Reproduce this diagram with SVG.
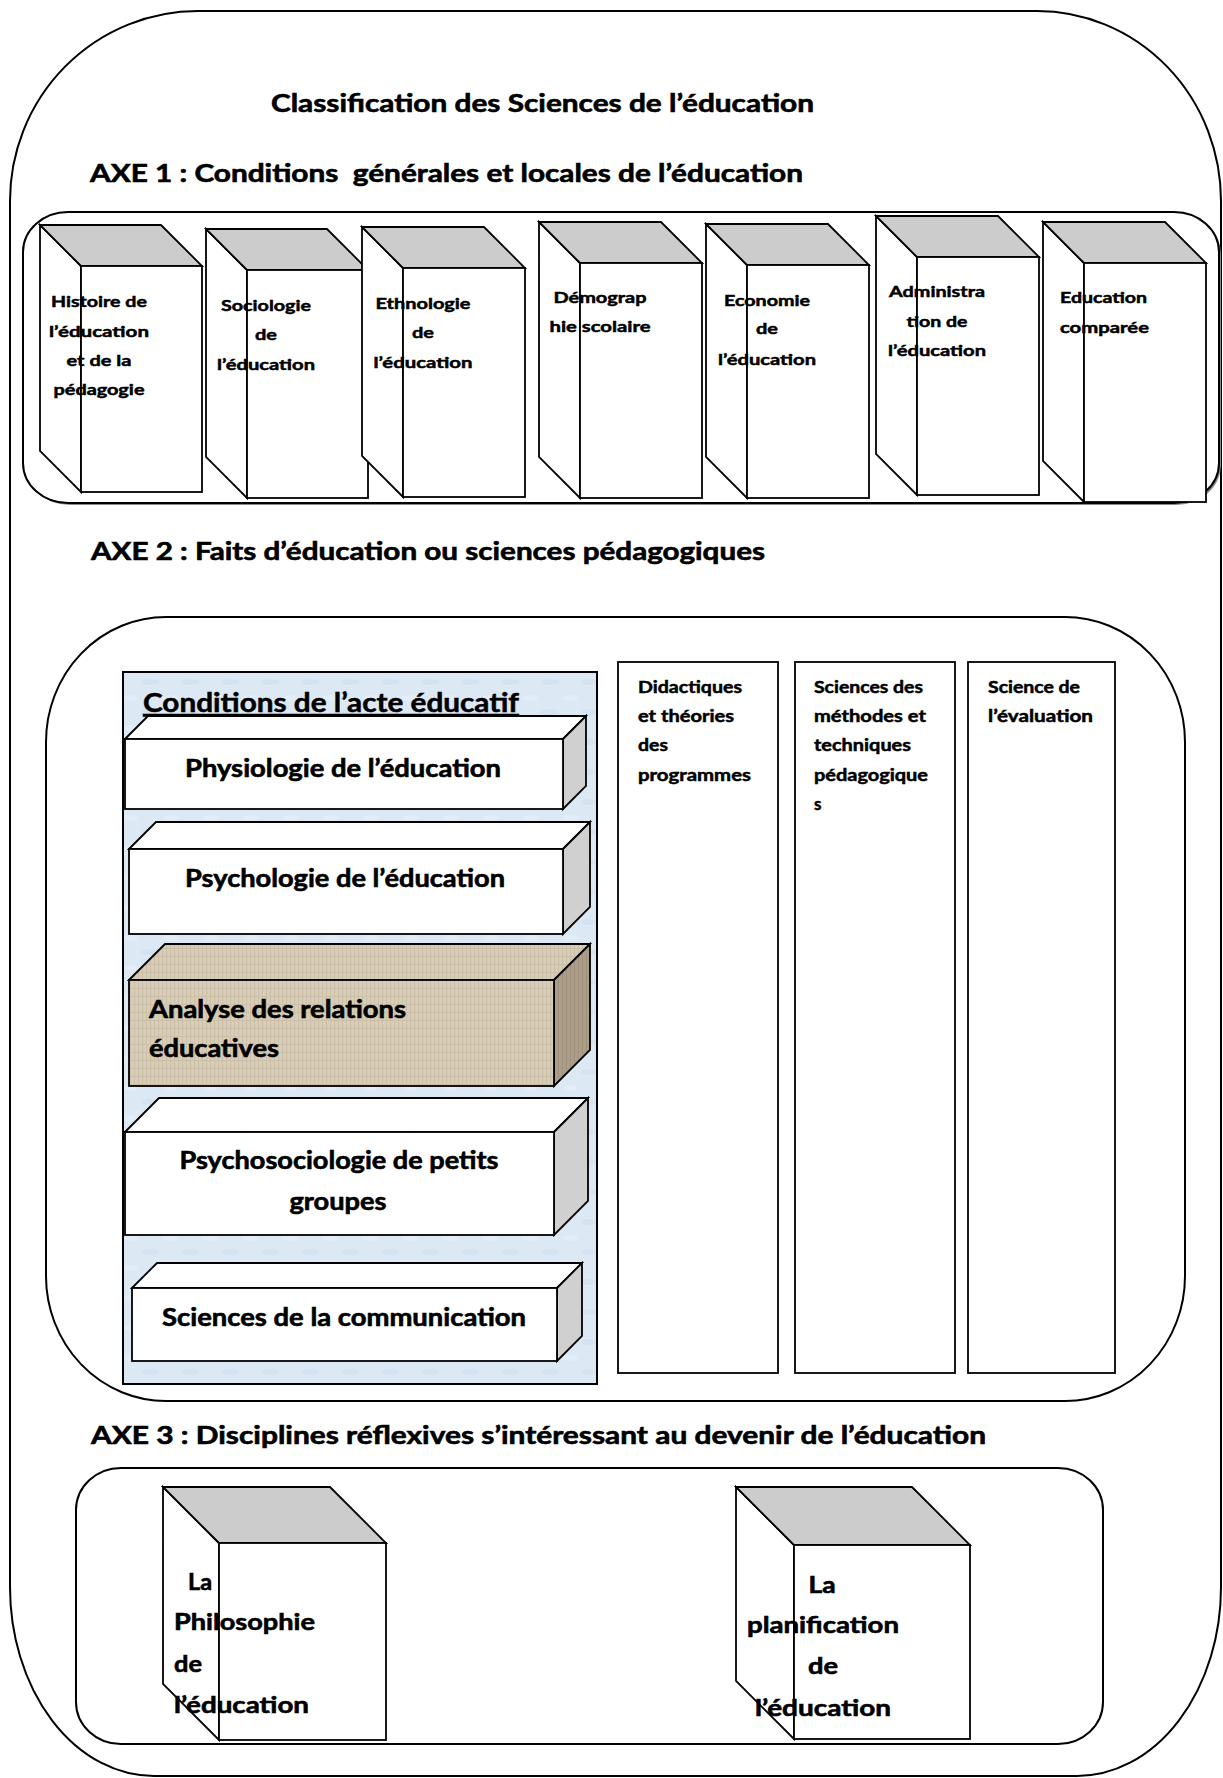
<svg xmlns="http://www.w3.org/2000/svg" width="1223" height="1778" viewBox="0 0 1223 1778">
<defs>
<style>
.t{font-family:Lato,"Liberation Sans",sans-serif;font-weight:700;fill:#000;stroke:#000;stroke-width:0.5}
.h{font-size:24px;stroke-width:0.6}
.s{font-size:16px}
.m{font-size:17px}
.b{font-size:24px;stroke-width:0.6}
.c{font-size:23px;stroke-width:0.6}
.mid{text-anchor:middle}
.box{fill:none;stroke:#000;stroke-width:2}
.boxw{fill:#fff;stroke:#000;stroke-width:2}
.f{stroke:#000;stroke-width:1.8;stroke-linejoin:miter}
.w{fill:#fff}
.g{fill:#cccccc}
.sg{fill:#d0d0d0}
.tan{fill:url(#tanTex)}
.tanside{fill:url(#tanSide)}
</style>
<pattern id="tanTex" width="8" height="8" patternUnits="userSpaceOnUse">
<rect width="8" height="8" fill="#d8cdb8"/>
<path d="M0 4.5H8M2.5 0V8M6.5 0V8" stroke="#cbbfa7" stroke-width="1"/>
</pattern>
<pattern id="tanSide" width="8" height="8" patternUnits="userSpaceOnUse">
<rect width="8" height="8" fill="#ab9d87"/>
<path d="M2.5 0V8M6.5 0V8" stroke="#9f917b" stroke-width="1"/>
</pattern>
<pattern id="blueTex" width="40" height="30" patternUnits="userSpaceOnUse">
<rect width="40" height="30" fill="#dce8f4"/>
<ellipse cx="10" cy="8" rx="8" ry="3" fill="#e3edf7"/>
<ellipse cx="30" cy="22" rx="9" ry="3" fill="#d5e2f0"/>
</pattern>
</defs>
<rect width="1223" height="1778" fill="#fff"/>

<g id="frame">
<path class="box" d="M 198 11 H 1037 A 184 190 0 0 1 1221 201 V 1587 A 144 189 0 0 1 1077 1776 H 154 A 144 189 0 0 1 10 1587 V 201 A 188 190 0 0 1 198 11 Z"/>
</g>

<g id="titles">
<text class="t h" x="271" y="112" textLength="543" lengthAdjust="spacingAndGlyphs">Classification des Sciences de l’éducation</text>
<text class="t h" x="90" y="182" textLength="713" lengthAdjust="spacingAndGlyphs" xml:space="preserve">AXE 1 : Conditions  générales et locales de l’éducation</text>
<text class="t h" x="91" y="560" textLength="674" lengthAdjust="spacingAndGlyphs">AXE 2 : Faits d’éducation ou sciences pédagogiques</text>
<text class="t h" x="91" y="1444" textLength="895" lengthAdjust="spacingAndGlyphs">AXE 3 : Disciplines réflexives s’intéressant au devenir de l’éducation</text>
</g>

<g id="axe1">
<rect x="25" y="214" width="1196" height="291" rx="45" ry="40" fill="#8a8a8a"/>
<rect class="boxw" x="23" y="212" width="1196" height="291" rx="45" ry="40"/>
</g>

<g id="book-histoire">
<polygon class="f w" points="40,225 81,266 81,492 40,451"/>
<polygon class="f g" points="40,225 161,225 202,266 81,266"/>
<rect class="f w" x="81" y="266" width="121" height="226"/>
<text class="t s mid" x="99" y="307" textLength="96" lengthAdjust="spacingAndGlyphs">Histoire de</text>
<text class="t s mid" x="99" y="337" textLength="100" lengthAdjust="spacingAndGlyphs">l’éducation</text>
<text class="t s mid" x="99" y="366" textLength="65" lengthAdjust="spacingAndGlyphs">et de la</text>
<text class="t s mid" x="99" y="395" textLength="91" lengthAdjust="spacingAndGlyphs">pédagogie</text>
</g>

<g id="book-sociologie">
<polygon class="f w" points="206,229 247,270 247,498 206,457"/>
<polygon class="f g" points="206,229 327,229 368,270 247,270"/>
<rect class="f w" x="247" y="270" width="121" height="228"/>
<text class="t s mid" x="266" y="311" textLength="90" lengthAdjust="spacingAndGlyphs">Sociologie</text>
<text class="t s mid" x="266" y="340" textLength="22" lengthAdjust="spacingAndGlyphs">de</text>
<text class="t s mid" x="266" y="370" textLength="98" lengthAdjust="spacingAndGlyphs">l’éducation</text>
</g>

<g id="book-ethnologie">
<polygon class="f w" points="362,227 403,268 403,497 362,456"/>
<polygon class="f g" points="362,227 484,227 525,268 403,268"/>
<rect class="f w" x="403" y="268" width="122" height="229"/>
<text class="t s mid" x="423" y="309" textLength="95" lengthAdjust="spacingAndGlyphs">Ethnologie</text>
<text class="t s mid" x="423" y="338" textLength="22" lengthAdjust="spacingAndGlyphs">de</text>
<text class="t s mid" x="423" y="368" textLength="99" lengthAdjust="spacingAndGlyphs">l’éducation</text>
</g>

<g id="book-demographie">
<polygon class="f w" points="539,222 580,263 580,498 539,457"/>
<polygon class="f g" points="539,222 661,222 702,263 580,263"/>
<rect class="f w" x="580" y="263" width="122" height="235"/>
<text class="t s mid" x="600" y="303" textLength="93" lengthAdjust="spacingAndGlyphs">Démograp</text>
<text class="t s mid" x="600" y="332" textLength="101" lengthAdjust="spacingAndGlyphs">hie scolaire</text>
</g>

<g id="book-economie">
<polygon class="f w" points="706,224 747,265 747,498 706,457"/>
<polygon class="f g" points="706,224 828,224 869,265 747,265"/>
<rect class="f w" x="747" y="265" width="122" height="233"/>
<text class="t s mid" x="767" y="306" textLength="86" lengthAdjust="spacingAndGlyphs">Economie</text>
<text class="t s mid" x="767" y="334" textLength="22" lengthAdjust="spacingAndGlyphs">de</text>
<text class="t s mid" x="767" y="365" textLength="98" lengthAdjust="spacingAndGlyphs">l’éducation</text>
</g>

<g id="book-administration">
<polygon class="f w" points="876,216 917,257 917,495 876,454"/>
<polygon class="f g" points="876,216 998,216 1039,257 917,257"/>
<rect class="f w" x="917" y="257" width="122" height="238"/>
<text class="t s mid" x="937" y="297" textLength="96" lengthAdjust="spacingAndGlyphs">Administra</text>
<text class="t s mid" x="937" y="327" textLength="61" lengthAdjust="spacingAndGlyphs">tion de</text>
<text class="t s mid" x="937" y="356" textLength="98" lengthAdjust="spacingAndGlyphs">l’éducation</text>
</g>

<g id="book-comparee">
<polygon class="f w" points="1043,222 1084,263 1084,502 1043,461"/>
<polygon class="f g" points="1043,222 1165,222 1206,263 1084,263"/>
<rect class="f w" x="1084" y="263" width="122" height="239"/>
<text class="t s" x="1060" y="303" textLength="87" lengthAdjust="spacingAndGlyphs">Education</text>
<text class="t s" x="1060" y="333" textLength="89" lengthAdjust="spacingAndGlyphs">comparée</text>
</g>

<g id="axe2">
<rect class="box" x="46" y="617" width="1139" height="784" rx="120" ry="125"/>
</g>

<g id="conditions-panel">
<rect x="123" y="672" width="474" height="712" fill="url(#blueTex)" stroke="#000" stroke-width="2"/>
<text class="t" x="143" y="712" font-size="26" stroke-width="0.6" textLength="376" lengthAdjust="spacingAndGlyphs" text-decoration="underline">Conditions de l’acte éducatif</text>
</g>

<g id="bar-physiologie">
<polygon class="f w" points="125,739 148,716 586,716 563,739"/>
<polygon class="f sg" points="563,739 586,716 586,786 563,809"/>
<rect class="f w" x="125" y="739" width="438" height="70"/>
<text class="t b mid" x="343" y="777" textLength="316" lengthAdjust="spacingAndGlyphs">Physiologie de l’éducation</text>
</g>

<g id="bar-psychologie">
<polygon class="f w" points="129,849 156,822 590,822 563,849"/>
<polygon class="f sg" points="563,849 590,822 590,907 563,934"/>
<rect class="f w" x="129" y="849" width="434" height="85"/>
<text class="t b mid" x="345" y="887" textLength="320" lengthAdjust="spacingAndGlyphs">Psychologie de l’éducation</text>
</g>

<g id="bar-analyse">
<polygon class="f tan" points="129,980 165,944 590,944 554,980"/>
<polygon class="f tanside" points="554,980 590,944 590,1050 554,1086"/>
<rect class="f tan" x="129" y="980" width="425" height="106"/>
<text class="t b" x="149" y="1018" textLength="257" lengthAdjust="spacingAndGlyphs">Analyse des relations</text>
<text class="t b" x="149" y="1057" textLength="130" lengthAdjust="spacingAndGlyphs">éducatives</text>
</g>

<g id="bar-psychosociologie">
<polygon class="f w" points="125,1132 159,1098 588,1098 554,1132"/>
<polygon class="f sg" points="554,1132 588,1098 588,1201 554,1235"/>
<rect class="f w" x="125" y="1132" width="429" height="103"/>
<text class="t b mid" x="339" y="1169" textLength="319" lengthAdjust="spacingAndGlyphs">Psychosociologie de petits</text>
<text class="t b mid" x="338" y="1210" textLength="97" lengthAdjust="spacingAndGlyphs">groupes</text>
</g>

<g id="bar-communication">
<polygon class="f w" points="132,1288 157,1263 582,1263 557,1288"/>
<polygon class="f sg" points="557,1288 582,1263 582,1336 557,1361"/>
<rect class="f w" x="132" y="1288" width="425" height="73"/>
<text class="t b mid" x="344" y="1326" textLength="364" lengthAdjust="spacingAndGlyphs">Sciences de la communication</text>
</g>

<g id="col-didactiques">
<rect class="f w" x="618" y="662" width="160" height="711"/>
<text class="t m" x="638" y="693" textLength="104" lengthAdjust="spacingAndGlyphs">Didactiques</text>
<text class="t m" x="638" y="722" textLength="96" lengthAdjust="spacingAndGlyphs">et théories</text>
<text class="t m" x="638" y="751" textLength="30" lengthAdjust="spacingAndGlyphs">des</text>
<text class="t m" x="638" y="781" textLength="113" lengthAdjust="spacingAndGlyphs">programmes</text>
</g>

<g id="col-methodes">
<rect class="f w" x="795" y="662" width="160" height="711"/>
<text class="t m" x="814" y="693" textLength="109" lengthAdjust="spacingAndGlyphs">Sciences des</text>
<text class="t m" x="814" y="722" textLength="112" lengthAdjust="spacingAndGlyphs">méthodes et</text>
<text class="t m" x="814" y="751" textLength="97" lengthAdjust="spacingAndGlyphs">techniques</text>
<text class="t m" x="814" y="781" textLength="114" lengthAdjust="spacingAndGlyphs">pédagogique</text>
<text class="t m" x="814" y="810">s</text>
</g>

<g id="col-evaluation">
<rect class="f w" x="968" y="662" width="147" height="711"/>
<text class="t m" x="988" y="693" textLength="92" lengthAdjust="spacingAndGlyphs">Science de</text>
<text class="t m" x="988" y="722" textLength="105" lengthAdjust="spacingAndGlyphs">l’évaluation</text>
</g>

<g id="axe3">
<rect class="box" x="76" y="1468" width="1027" height="276" rx="45" ry="42"/>
</g>

<g id="cube-philosophie">
<polygon class="f w" points="163,1487 219,1543 219,1740 163,1684"/>
<polygon class="f g" points="163,1487 330,1487 386,1543 219,1543"/>
<rect class="f w" x="219" y="1543" width="167" height="197"/>
<text class="t c" x="188" y="1590" textLength="24" lengthAdjust="spacingAndGlyphs">La</text>
<text class="t c" x="174" y="1630" textLength="141" lengthAdjust="spacingAndGlyphs">Philosophie</text>
<text class="t c" x="174" y="1672" textLength="28" lengthAdjust="spacingAndGlyphs">de</text>
<text class="t c" x="174" y="1713" textLength="135" lengthAdjust="spacingAndGlyphs">l’éducation</text>
</g>

<g id="cube-planification">
<polygon class="f w" points="736,1487 794,1545 794,1739 736,1681"/>
<polygon class="f g" points="736,1487 912,1487 970,1545 794,1545"/>
<rect class="f w" x="794" y="1545" width="176" height="194"/>
<text class="t c mid" x="822" y="1593" textLength="27" lengthAdjust="spacingAndGlyphs">La</text>
<text class="t c mid" x="823" y="1633" textLength="152" lengthAdjust="spacingAndGlyphs">planification</text>
<text class="t c mid" x="823" y="1674" textLength="30" lengthAdjust="spacingAndGlyphs">de</text>
<text class="t c mid" x="823" y="1716" textLength="136" lengthAdjust="spacingAndGlyphs">l’éducation</text>
</g>

<g id="connectors"></g>
</svg>
